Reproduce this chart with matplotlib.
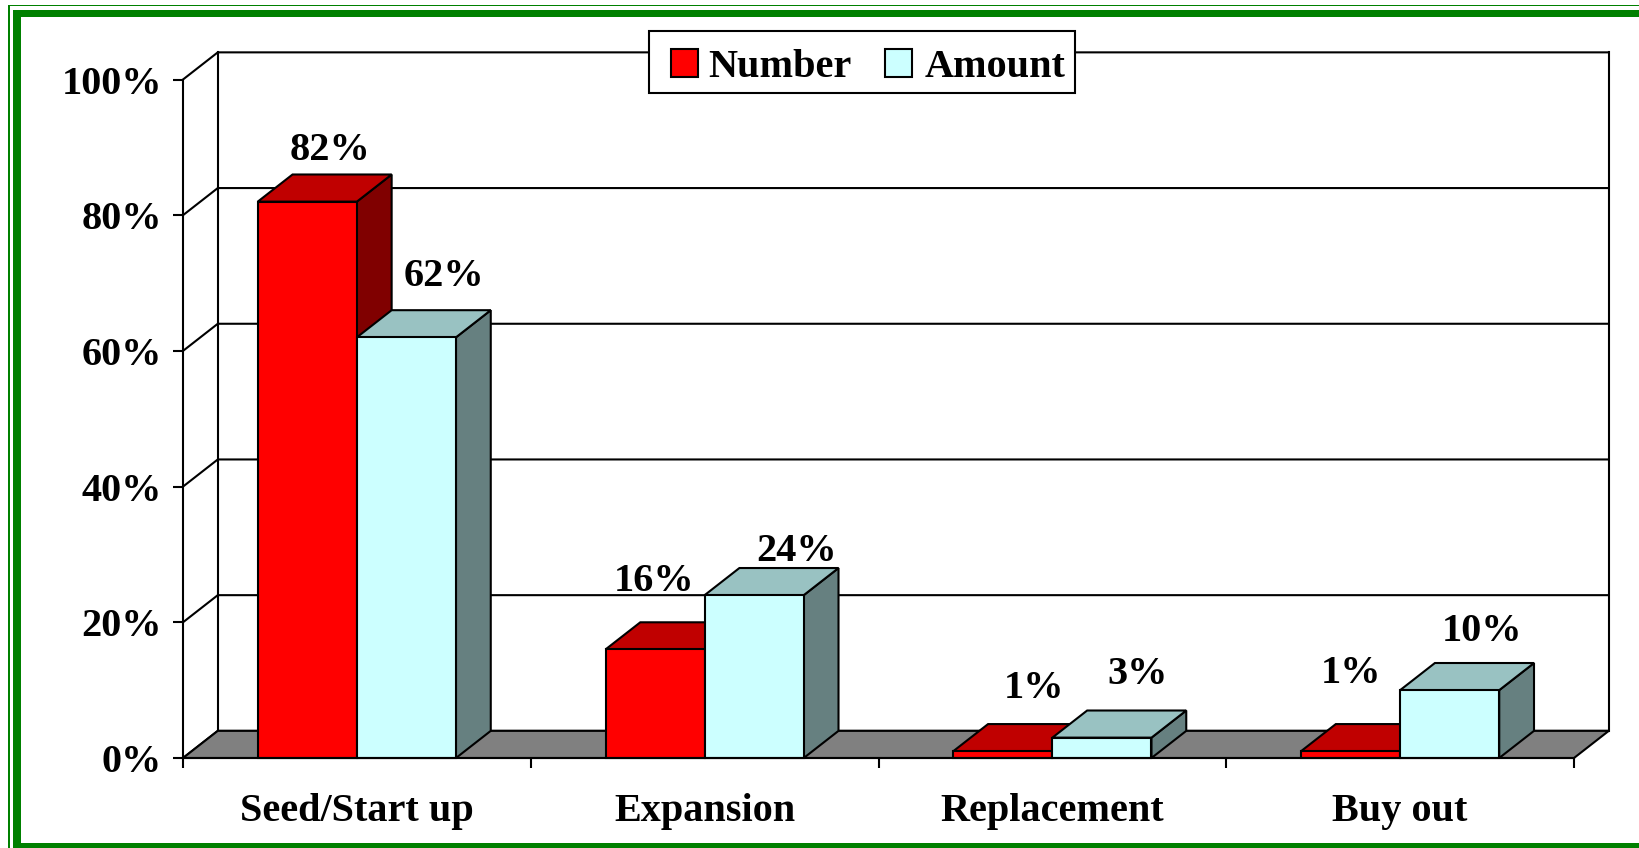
import matplotlib.pyplot as plt
from matplotlib.patches import Polygon, Rectangle

categories = ['Seed/Start up', 'Expansion', 'Replacement', 'Buy out']
number = [82, 16, 1, 1]
amount = [62, 24, 3, 10]
series_names = ['Number', 'Amount']
y_ticks = [0, 20, 40, 60, 80, 100]

# label nudges in pixels (dx, dy above the back top edge), Excel-style placement
number_label_off = [(5, 14), (-18, 31), (14, 26), (-17, 41)]
amount_label_off = [(20, 24), (25, 7), (18, 27), (15, 22)]

plt.rcParams['font.family'] = 'Liberation Serif'
plt.rcParams['font.weight'] = 'bold'
fs = 29
DX, DY = 0.1, 4.0   # depth of the fake 3d box in data units
W = 0.285           # bar width
LW = 1.5
colors = {
    'Number': ('#ff0000', '#c00000', '#800000'),
    'Amount': ('#ccffff', '#99c2c2', '#668080'),
}

fig = plt.figure(figsize=(16.39, 8.48), dpi=100)

# pixel-space overlay for the frame and the legend box
bg = fig.add_axes([0, 0, 1, 1])
bg.set_xlim(0, 1639)
bg.set_ylim(848, 0)
bg.axis('off')
bg.set_zorder(5)
green = '#008000'
for x, y, w, h in [(8, 4.7, 2, 850), (8, 4.7, 1640, 1.4),
                   (13.3, 9.7, 7.7, 850), (13.3, 9.7, 1640, 7.6),
                   (13.3, 843, 1640, 10)]:
    bg.add_patch(Rectangle((x, y), w, h, color=green, lw=0))

ax = fig.add_axes([183 / 1639, 90 / 848, 1391 / 1639, 678.5 / 848])
n = len(categories)
ax.set_xlim(0, n)
ax.set_ylim(0, 100)
ax.patch.set_visible(False)
ax.spines['top'].set_visible(False)
ax.spines['right'].set_visible(False)
ax.spines['left'].set_linewidth(LW)
ax.spines['bottom'].set_linewidth(LW)
ax.spines['bottom'].set_zorder(20)

ax.set_yticks(y_ticks)
ax.set_yticklabels([f'{v}%' for v in y_ticks])
ax.tick_params(axis='y', length=7.2, width=LW, pad=8, labelsize=fs)
ax.set_xticks(range(n + 1))
ax.set_xticklabels([])
ax.set_xticks([i + 0.5 for i in range(n)], minor=True)
ax.set_xticklabels(categories, minor=True)
ax.tick_params(axis='x', which='major', length=7.2, width=LW)
ax.tick_params(axis='x', which='minor', length=0, pad=25, labelsize=fs)

# walls and gridlines
for v in y_ticks:
    ax.plot([0, DX, n + DX], [v + 0, v + DY, v + DY], color='black', lw=LW,
            zorder=1, clip_on=False)
ax.plot([DX, DX], [DY, 100 + DY], color='black', lw=LW, zorder=1, clip_on=False)
ax.plot([n + DX, n + DX], [DY, 100 + DY], color='black', lw=LW, zorder=1, clip_on=False)
ax.add_patch(Polygon([(0, 0), (n, 0), (n + DX, DY), (DX, DY)], fc='#808080',
                     ec='black', lw=LW, zorder=2, clip_on=False))


def box(x0, v, cols, z):
    front, top, side = cols
    x1 = x0 + W
    ax.add_patch(Polygon([(x1, 0), (x1 + DX, DY), (x1 + DX, v + DY), (x1, v)],
                         fc=side, ec='black', lw=LW, zorder=z, clip_on=False))
    ax.add_patch(Polygon([(x0, v), (x1, v), (x1 + DX, v + DY), (x0 + DX, v + DY)],
                         fc=top, ec='black', lw=LW, zorder=z, clip_on=False))
    ax.add_patch(Polygon([(x0, 0), (x1, 0), (x1, v), (x0, v)],
                         fc=front, ec='black', lw=LW, zorder=z, clip_on=False))


z = 3
for i in range(n):
    for s, vals, offs, x0 in [('Number', number, number_label_off, i + 0.5 - W),
                              ('Amount', amount, amount_label_off, i + 0.5)]:
        v = vals[i]
        box(x0, v, colors[s], z)
        z += 1
        ox, oy = offs[i]
        ax.annotate(f'{v}%', (x0 + W / 2 + DX / 2, v + DY),
                    xytext=(ox * 0.72, oy * 0.72), textcoords='offset points',
                    ha='center', va='baseline', fontsize=fs, zorder=30,
                    annotation_clip=False)

# legend box drawn by hand so the entries sit like the original
bg.add_patch(Rectangle((649, 31), 426, 61.7, fc='white', ec='black', lw=LW))
for s, sx, tx in zip(series_names, [670.7, 885], [708, 925]):
    bg.add_patch(Rectangle((sx, 49), 27, 27.7, fc=colors[s][0], ec='black', lw=LW))
    bg.text(tx, 76.7, s, fontsize=fs, ha='left', va='baseline')

fig.savefig('out.png', dpi=100)
